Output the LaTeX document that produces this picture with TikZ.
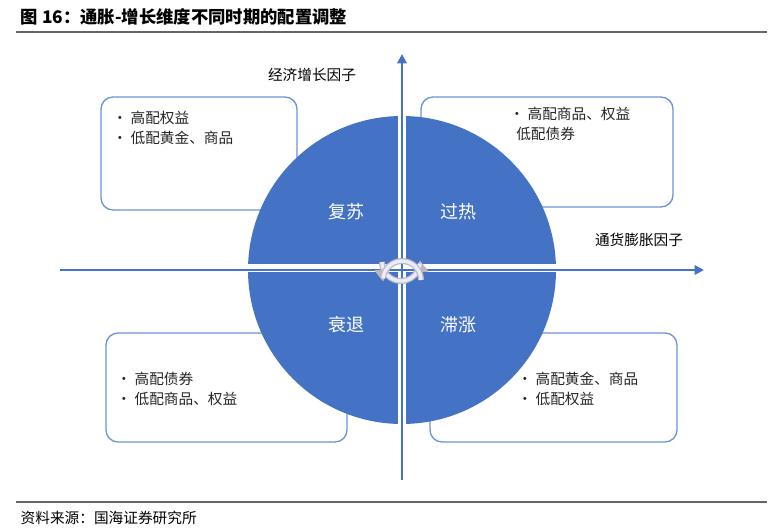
\documentclass[tikz,border=0pt]{standalone}
\usepackage{fontspec}
\setmainfont{Liberation Sans}
\newfontfamily\cjk{Noto Sans CJK SC}
\usetikzlibrary{arrows.meta}
\definecolor{qblue}{HTML}{4472C4}
\definecolor{boxline}{HTML}{6B93D6}
\tikzset{>={Stealth[scale=1]},
  infobox/.style={draw=boxline, line width=1pt, rounded corners=9pt, fill=white},
  itemtext/.style={anchor=west, font=\cjk\fontsize{11}{15}\selectfont, align=left, text=black!85},
  phase/.style={font=\cjk\fontsize{13.5}{16}\selectfont, text=white},
  axisline/.style={qblue, line width=1.6pt, -{Triangle[length=7pt,width=7pt]}},
  cycle/.style={line width=4.5pt, gray!55, -{Triangle[length=9pt,width=11pt]}},
  cyclein/.style={line width=2.6pt, white!92!blue}}
\begin{document}
\begin{tikzpicture}[x=0.75pt,y=-0.75pt]
  \useasboundingbox (0,0) rectangle (772,531);
  % title
  \node[anchor=west, font=\bfseries\cjk\fontsize{13}{15}\selectfont] (title) at (16,17) {图 16：通胀-增长维度不同时期的配置调整};
  \draw[gray!80!black, line width=1pt] (16,32) -- (767,32);

  % boxes
  \draw[infobox] (101,97) rectangle (297,210);
  \draw[infobox] (421,97) rectangle (673,207);
  \draw[infobox] (106,333) rectangle (347,442);
  \draw[infobox] (430,333) rectangle (677,442);
  \node[itemtext] (tl) at (108,128) {• 高配权益\\• 低配黄金、商品};
  \node[itemtext] (tr) at (505,124) {• 高配商品、权益\\\ \ 低配债券};
  \node[itemtext] (bl) at (112,389) {• 高配债券\\• 低配商品、权益};
  \node[itemtext] (br) at (513,389) {• 高配黄金、商品\\• 低配权益};

  % circle
  \fill[qblue] (402,270) circle[radius=154];
  \draw[white, line width=6pt] (402,110) -- (402,430);
  \draw[white, line width=6pt] (240,268) -- (564,268);

  % axes
  \coordinate (xs) at (60,270);
  \coordinate (xe) at (704,270);
  \coordinate (ys) at (402,480);
  \coordinate (ye) at (402,54);
  \draw[axisline] (xs) -- (xe);
  \draw[axisline] (ys) -- (ye);
  \node[font=\cjk\fontsize{11}{13}\selectfont] (ylab) at (312,75) {经济增长因子};
  \node[font=\cjk\fontsize{11}{13}\selectfont] (xlab) at (639,240) {通货膨胀因子};

  % phases
  \node[phase] (p1) at (346,212) {复苏};
  \node[phase] (p2) at (458,212) {过热};
  \node[phase] (p3) at (346,325) {衰退};
  \node[phase] (p4) at (458,325) {滞涨};

  % cycle arrows
  \draw[cycle] (382,262) arc[start angle=180, end angle=-5, radius=19];
  \draw[cyclein] (382,262) arc[start angle=180, end angle=5, radius=19];
  \draw[cycle] (421,280) arc[start angle=0, end angle=-185, radius=19];
  \draw[cyclein] (421,280) arc[start angle=0, end angle=-175, radius=19];

  % source
  \draw[gray!80!black, line width=1pt] (16,502) -- (767,502);
  \node[anchor=west, font=\cjk\fontsize{11}{13}\selectfont] (src) at (16,518) {资料来源：国海证券研究所};
\end{tikzpicture}
\end{document}
